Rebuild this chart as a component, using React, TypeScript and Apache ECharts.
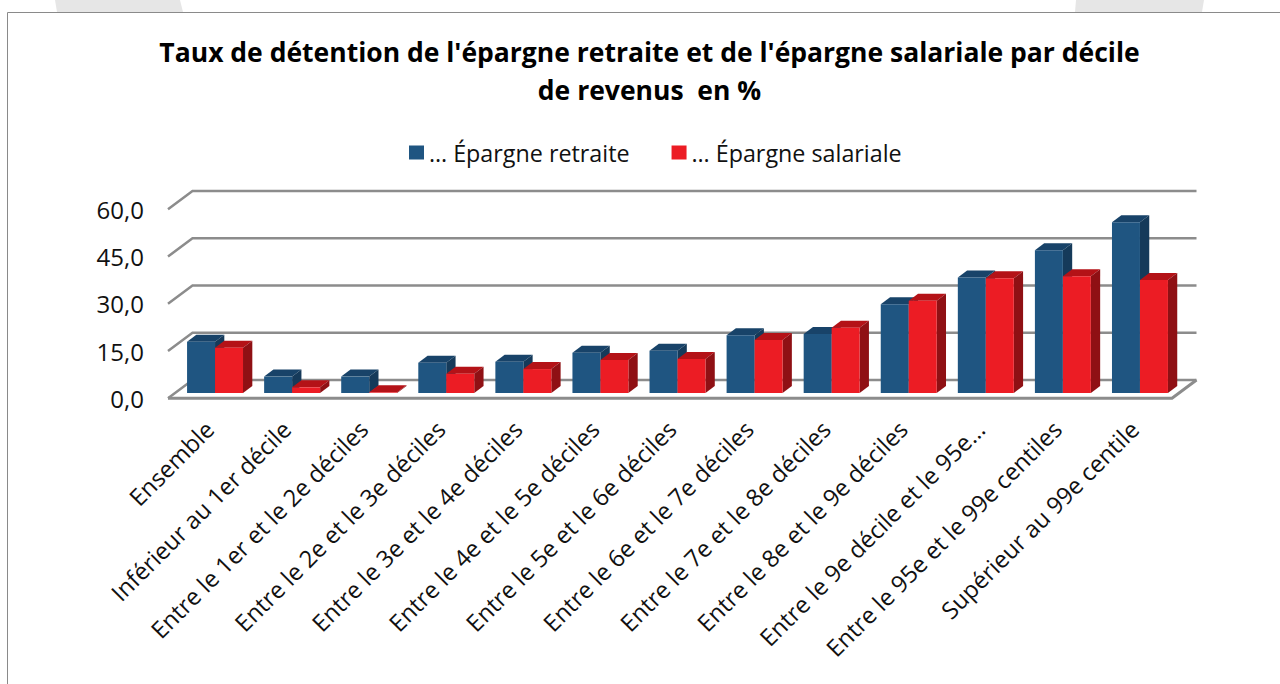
import React, { useEffect, useRef } from "react";
import * as echarts from "echarts";

const title = "Taux de détention de l'épargne retraite et de l'épargne salariale par décile\nde revenus  en %";
const categories = [
  "Ensemble",
  "Inférieur au 1er décile",
  "Entre le 1er et le 2e déciles",
  "Entre le 2e et le 3e déciles",
  "Entre le 3e et le 4e déciles",
  "Entre le 4e et le 5e déciles",
  "Entre le 5e et le 6e déciles",
  "Entre le 6e et le 7e déciles",
  "Entre le 7e et le 8e déciles",
  "Entre le 8e et le 9e déciles",
  "Entre le 9e décile et le 95e…",
  "Entre le 95e et le 99e centiles",
  "Supérieur au 99e centile",
];
const retraite = [16.3, 5.2, 5.2, 9.6, 9.9, 12.8, 13.4, 18.3, 18.7, 28.2, 36.7, 45.3, 54.2];
const salariale = [14.4, 1.8, 0.2, 6.1, 7.6, 10.5, 10.8, 16.8, 20.7, 29.3, 36.4, 37.1, 35.9];
const yTicks = [0, 15, 30, 45, 60];
const seriesNames = ["… Épargne retraite", "… Épargne salariale"];

const FONT = "'Open Sans', sans-serif";
const BLUE = { front: "#1F5581", top: "#184369", side: "#153A5A" };
const RED = { front: "#EC1C24", top: "#B41217", side: "#8F1014" };

function barRenderer(pal: typeof BLUE, side: number) {
  return (_p: any, api: any) => {
    const i = api.value(0);
    const v = api.value(1);
    const band = api.size([1, 0])[0];
    const w = band * 0.363;
    const [cx, y0] = api.coord([i, 0]);
    const [, y1] = api.coord([i, v]);
    const x0 = side < 0 ? cx - w : cx;
    const x1 = x0 + w;
    const dx = 9.3;
    const dy = -7;
    return {
      type: "group",
      children: [
        { type: "polygon", shape: { points: [[x0, y1], [x1, y1], [x1 + dx, y1 + dy], [x0 + dx, y1 + dy]] }, style: { fill: pal.top } },
        { type: "polygon", shape: { points: [[x1, y0], [x1, y1], [x1 + dx, y1 + dy], [x1 + dx, y0 + dy]] }, style: { fill: pal.side } },
        { type: "rect", shape: { x: x0, y: y1, width: w, height: y0 - y1 }, style: { fill: pal.front } },
      ],
    };
  };
}

function wallRenderer(_p: any, api: any) {
  const cs = _p.coordSys;
  const v = api.value(0);
  const [, y] = api.coord([0, v]);
  const left = cs.x;
  const right = cs.x + cs.width;
  const dx = 24.5;
  const dy = -18.3;
  const stroke = { stroke: "#8C8C8C", lineWidth: 2.5, fill: "none" };
  const children: any[] = [
    { type: "polyline", shape: { points: [[left, y], [left + dx, y + dy], [right + dx, y + dy]] }, style: stroke },
  ];
  if (v === 0) {
    children.push({
      type: "polyline",
      shape: { points: [[left, y], [right, y], [right + dx, y + dy]] },
      style: { ...stroke, lineWidth: 3 },
    });
  }
  return { type: "group", children };
}

export default function App() {
  const ref = useRef<HTMLDivElement>(null);
  useEffect(() => {
    const chart = echarts.init(ref.current!, null, { renderer: "svg" });
    chart.setOption({
      animation: false,
      backgroundColor: "#fff",
      title: {
        text: title,
        left: 644.5,
        top: 28,
        textAlign: "center",
        textStyle: { fontFamily: FONT, fontWeight: "bold", fontSize: 26.5, lineHeight: 38, color: "#000" },
      },
      legend: {
        left: 404,
        top: 136,
        itemWidth: 15,
        itemHeight: 14,
        itemGap: 42,
        icon: "rect",
        textStyle: { fontFamily: FONT, fontSize: 23.3, color: "#111" },
        data: [
          { name: seriesNames[0], itemStyle: { color: BLUE.front } },
          { name: seriesNames[1], itemStyle: { color: RED.front } },
        ],
      },
      grid: [
        { left: 176.5, width: 1002, top: 204, height: 189 },
        { left: 168, width: 1004, top: 209.3, height: 189 },
        { left: 171, width: 1002, top: 204, height: 189 },
      ],
      xAxis: [
        { gridIndex: 0, type: "category", data: categories, show: false },
        { gridIndex: 1, type: "category", data: categories, show: false },
        {
          gridIndex: 2,
          type: "category",
          data: categories,
          axisLine: { show: false },
          axisTick: { show: false },
          axisLabel: {
            interval: 0,
            rotate: 45,
            margin: 32,
            fontFamily: FONT,
            fontSize: 23.7,
            color: "#111",
          },
        },
      ],
      yAxis: [
        { gridIndex: 0, type: "value", min: 0, max: 60, interval: 15, show: false },
        {
          gridIndex: 1,
          type: "value",
          min: 0,
          max: 60,
          interval: 15,
          axisLine: { show: false },
          axisTick: { show: false },
          splitLine: { show: false },
          axisLabel: {
            margin: 24,
            fontFamily: FONT,
            fontSize: 24,
            color: "#111",
            formatter: (v: number) => v.toFixed(1).replace(".", ","),
          },
        },
        { gridIndex: 2, type: "value", min: 0, max: 60, interval: 15, show: false },
      ],
      graphic: [
        { type: "polygon", z: -10, shape: { points: [[55, 0], [180, 0], [183, 12], [57, 12]] }, style: { fill: "#E6E6E6" } },
        { type: "polygon", z: -10, shape: { points: [[1076, 0], [1204, 0], [1202, 12], [1075, 12]] }, style: { fill: "#E6E6E6" } },
        { type: "rect", z: -9, shape: { x: 7.5, y: 12.5, width: 1300, height: 700 }, style: { fill: "#fff", stroke: "#8A8A8A", lineWidth: 1 } },
      ],
      series: [
        {
          type: "custom",
          name: "walls",
          xAxisIndex: 1,
          yAxisIndex: 1,
          coordinateSystem: "cartesian2d",
          encode: { y: 0 },
          silent: true,
          z: 1,
          renderItem: wallRenderer,
          data: yTicks.map((t) => [t]),
        },
        {
          type: "custom",
          name: seriesNames[0],
          xAxisIndex: 0,
          yAxisIndex: 0,
          z: 2,
          encode: { x: 0, y: 1 },
          renderItem: barRenderer(BLUE, -1),
          data: retraite.map((v, i) => [i, v]),
        },
        {
          type: "custom",
          name: seriesNames[1],
          xAxisIndex: 0,
          yAxisIndex: 0,
          z: 3,
          encode: { x: 0, y: 1 },
          renderItem: barRenderer(RED, 1),
          data: salariale.map((v, i) => [i, v]),
        },
      ],
    });
    return () => chart.dispose();
  }, []);
  return <div ref={ref} style={{ position: "fixed", left: 0, top: 0, width: 1280, height: 684 }} />;
}
